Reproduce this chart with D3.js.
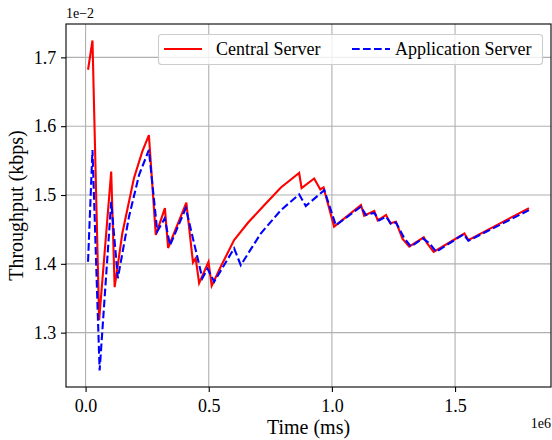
<!DOCTYPE html>
<html>
<head>
<meta charset="utf-8">
<script src="https://cdn.jsdelivr.net/npm/d3@7"></script>
<style>
    body { margin: 0; background: #fff; }
    svg { display: block; }
    svg text { font-family: 'Liberation Serif', 'Times New Roman', serif; fill: #000; }
</style>
</head>
<body>
<div id="chart"></div>
<script>
// time in units of 1e6 ms, throughput in units of 1e-2 kbps
const centralX = [0.01, 0.028, 0.055, 0.104, 0.118, 0.149, 0.196, 0.23, 0.257, 0.285, 0.322, 0.335,
    0.409, 0.436, 0.447, 0.461, 0.499, 0.512, 0.549, 0.603, 0.66, 0.725, 0.793, 0.867, 0.877, 0.928,
    0.953, 0.966, 1.009, 1.118, 1.131, 1.172, 1.186, 1.22, 1.237, 1.26, 1.287, 1.314, 1.373, 1.386,
    1.413, 1.538, 1.554, 1.8];
const centralY = [1.682, 1.7245, 1.318, 1.534, 1.366, 1.444, 1.524, 1.563, 1.587, 1.442, 1.481, 1.423,
    1.489, 1.402, 1.408, 1.372, 1.403, 1.368, 1.396, 1.4345, 1.46, 1.485, 1.511, 1.532, 1.51, 1.524,
    1.508, 1.511, 1.454, 1.4855, 1.47, 1.477, 1.463, 1.471, 1.459, 1.461, 1.436, 1.425, 1.4385, 1.43,
    1.4175, 1.444, 1.4345, 1.481];

const appX = [0.01, 0.028, 0.057, 0.104, 0.131, 0.176, 0.217, 0.257, 0.291, 0.321, 0.343, 0.407,
    0.474, 0.495, 0.522, 0.603, 0.63, 0.711, 0.793, 0.867, 0.894, 0.969, 1.016, 1.118, 1.138, 1.172,
    1.192, 1.22, 1.24, 1.26, 1.294, 1.321, 1.369, 1.396, 1.423, 1.535, 1.554, 1.8];
const appY = [1.403, 1.5655, 1.245, 1.49, 1.379, 1.468, 1.529, 1.5655, 1.447, 1.466, 1.427, 1.481,
    1.379, 1.393, 1.374, 1.4225, 1.398, 1.444, 1.478, 1.501, 1.484, 1.507, 1.456, 1.483, 1.471, 1.474,
    1.463, 1.4685, 1.458, 1.46, 1.437, 1.425, 1.437, 1.43, 1.4175, 1.443, 1.4335, 1.478];

const xTicks = [0, 0.5, 1.0, 1.5];
const yTicks = [1.3, 1.4, 1.5, 1.6, 1.7];
const seriesNames = ['Central Server', 'Application Server'];

const W = 552, H = 440;
const box = { left: 66, right: 551, top: 24, bottom: 387 };

// matplotlib style 5% margins
function padded(arr) {
    let lo = d3.min(arr), hi = d3.max(arr), m = (hi - lo) * 0.05;
    return [lo - m, hi + m];
}

const xScale = d3.scaleLinear()
    .domain(padded(centralX.concat(appX)))
    .range([box.left, box.right]);
const yScale = d3.scaleLinear()
    .domain(padded(centralY.concat(appY)))
    .range([box.bottom, box.top]);

const svg = d3.select('#chart').append('svg')
    .attr('width', W)
    .attr('height', H);

// grid
svg.append('g').selectAll('line')
    .data(xTicks).enter().append('line')
    .attr('x1', d => xScale(d)).attr('x2', d => xScale(d))
    .attr('y1', box.top).attr('y2', box.bottom)
    .attr('stroke', '#b0b0b0').attr('stroke-width', 1.1);
svg.append('g').selectAll('line')
    .data(yTicks).enter().append('line')
    .attr('y1', d => yScale(d)).attr('y2', d => yScale(d))
    .attr('x1', box.left).attr('x2', box.right)
    .attr('stroke', '#b0b0b0').attr('stroke-width', 1.1);

// axes
let xAxis = svg.append('g')
    .attr('transform', `translate(0, ${box.bottom})`)
    .call(d3.axisBottom(xScale).tickValues(xTicks).tickFormat(d3.format('.1f')).tickSize(5).tickSizeOuter(0));
let yAxis = svg.append('g')
    .attr('transform', `translate(${box.left}, 0)`)
    .call(d3.axisLeft(yScale).tickValues(yTicks).tickFormat(d3.format('.1f')).tickSize(5).tickSizeOuter(0));

[xAxis, yAxis].forEach(a => {
    a.select('.domain').remove();
    a.selectAll('line').attr('stroke', '#000').attr('stroke-width', 1.1);
    a.selectAll('text').attr('font-size', 18);
});
xAxis.selectAll('text').attr('dy', '0.95em');
yAxis.selectAll('text').attr('dx', '-0.1em');

// series
const line = d3.line()
    .x(d => xScale(d[0]))
    .y(d => yScale(d[1]));

const g = svg.append('g');
g.append('path')
    .datum(centralX.map((x, i) => [x, centralY[i]]))
    .attr('d', line)
    .attr('fill', 'none')
    .attr('stroke', '#ff0000')
    .attr('stroke-width', 2.1);
g.append('path')
    .datum(appX.map((x, i) => [x, appY[i]]))
    .attr('d', line)
    .attr('fill', 'none')
    .attr('stroke', '#0000ff')
    .attr('stroke-width', 2.1)
    .attr('stroke-dasharray', '7.7,3.3');

// frame
svg.append('rect')
    .attr('x', box.left).attr('y', box.top)
    .attr('width', box.right - box.left).attr('height', box.bottom - box.top)
    .attr('fill', 'none').attr('stroke', '#000').attr('stroke-width', 1.1);

// offset texts
svg.append('text')
    .attr('x', box.left).attr('y', box.top - 6)
    .attr('font-size', 14)
    .text('1e\u22122');
svg.append('text')
    .attr('x', box.right).attr('y', 428)
    .attr('text-anchor', 'end')
    .attr('font-size', 14)
    .text('1e6');

// axis labels
svg.append('text')
    .attr('x', (box.left + box.right) / 2).attr('y', 434)
    .attr('text-anchor', 'middle')
    .attr('font-size', 20)
    .text('Time (ms)');
svg.append('text')
    .attr('transform', `translate(23, ${(box.top + box.bottom) / 2}) rotate(-90)`)
    .attr('text-anchor', 'middle')
    .attr('font-size', 20)
    .text('Throughput (kbps)');

// legend
const leg = svg.append('g');
leg.append('rect')
    .attr('x', 158.5).attr('y', 34.5)
    .attr('width', 384).attr('height', 30)
    .attr('rx', 3)
    .attr('fill', 'rgba(255,255,255,0.8)')
    .attr('stroke', '#cccccc').attr('stroke-width', 1.1);
leg.append('line')
    .attr('x1', 164).attr('x2', 202).attr('y1', 49).attr('y2', 49)
    .attr('stroke', '#ff0000').attr('stroke-width', 2.1);
leg.append('text')
    .attr('x', 216).attr('y', 55)
    .attr('font-size', 18)
    .text(seriesNames[0]);
leg.append('line')
    .attr('x1', 352).attr('x2', 390).attr('y1', 49).attr('y2', 49)
    .attr('stroke', '#0000ff').attr('stroke-width', 2.1)
    .attr('stroke-dasharray', '7.7,3.3');
leg.append('text')
    .attr('x', 395).attr('y', 55)
    .attr('font-size', 18)
    .text(seriesNames[1]);
</script>
</body>
</html>
